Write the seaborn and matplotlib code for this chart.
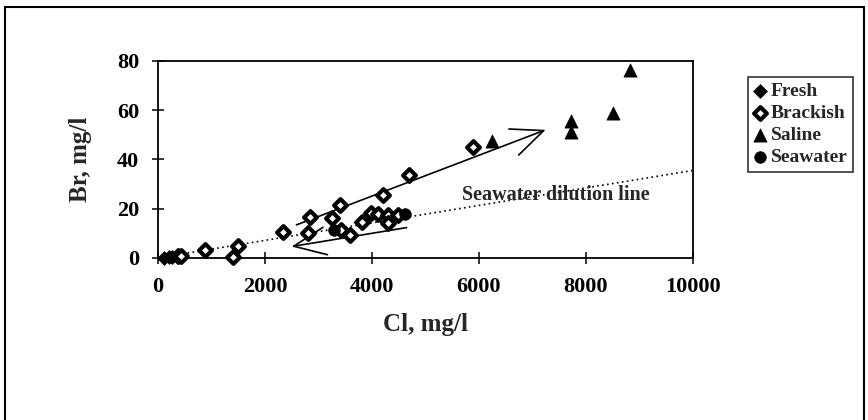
"""Br vs Cl scatter with seawater dilution line (recreated)."""

import matplotlib

matplotlib.use("Agg")
import matplotlib.pyplot as plt
import matplotlib.patches as mpatches
import pandas as pd
import seaborn as sns

# data
fresh_cl = [120, 200, 260]
fresh_br = [0.0, 0.3, 0.5]
brackish_cl = [380, 430, 880, 1400, 1500, 2330, 2810, 2840, 3250, 3400, 3430,
               3590, 3810, 3990, 4110, 4210, 4300, 4300, 4490, 4700, 5900]
brackish_br = [0.6, 0.9, 3.2, 0.5, 5.0, 10.7, 10.0, 16.8, 16.1, 21.5, 11.4,
               9.3, 14.7, 18.1, 18.0, 25.6, 17.5, 14.1, 17.5, 33.7, 45.0]
saline_cl = [6240, 7730, 7730, 8510, 8820]
saline_br = [47.5, 55.4, 51.3, 58.8, 76.3]
seawater_cl = [3300, 4620]
seawater_br = [11.5, 17.8]

dilution_cl = [0, 10000]
dilution_br = [0, 35.5]
up_arrow = [(2590, 13.4), (7250, 52.0)]
down_arrow = [(4650, 12.3), (2500, 4.6)]

x_ticks = [0, 2000, 4000, 6000, 8000, 10000]
y_ticks = [0, 20, 40, 60, 80]

groups = {
    "Fresh": (fresh_cl, fresh_br),
    "Brackish": (brackish_cl, brackish_br),
    "Saline": (saline_cl, saline_br),
    "Seawater": (seawater_cl, seawater_br),
}
styles = {
    "Fresh": dict(marker="D", color="black", s=50, linewidth=0.5),
    "Brackish": dict(marker="D", color="white", s=42, linewidth=3.0),
    "Saline": dict(marker="^", color="black", s=90, linewidth=0.5),
    "Seawater": dict(marker="o", color="black", s=70, linewidth=0.5),
}


def main() -> None:
    sns.set_theme(style="ticks")
    plt.rcParams["font.family"] = ["Liberation Serif", "DejaVu Serif"]
    plt.rcParams["font.weight"] = "bold"

    fig = plt.figure(figsize=(8.68, 4.2), dpi=100)
    ax = fig.add_axes([0.182, 0.386, 0.616, 0.469])

    ax.plot(dilution_cl, dilution_br, linestyle=(0, (1, 2)), color="black",
            linewidth=1.2, zorder=1)

    for name, (cl, br) in groups.items():
        df = pd.DataFrame({"Cl": cl, "Br": br})
        sns.scatterplot(data=df, x="Cl", y="Br", ax=ax, edgecolor="black",
                        label=name, zorder=3, clip_on=False, **styles[name])

    for start, tip in (up_arrow, down_arrow):
        ax.annotate("", xy=tip, xytext=start,
                    arrowprops=dict(arrowstyle="->,head_length=23,head_width=10",
                                    mutation_scale=1, color="black", lw=1.2,
                                    shrinkA=0, shrinkB=0), zorder=2)

    ax.text(5680, 25.6, "Seawater dilution line", fontsize=14.5,
            fontweight="bold", va="center", ha="left", zorder=4)

    ax.set_xlim(0, 10000)
    ax.set_ylim(0, 80)
    ax.set_xticks(x_ticks)
    ax.set_yticks(y_ticks)
    ax.tick_params(direction="inout", length=9, width=1.1, labelsize=16,
                   colors="black", pad=9)
    for lab in ax.get_xticklabels() + ax.get_yticklabels():
        lab.set_fontweight("bold")
    for spine in ax.spines.values():
        spine.set_visible(True)
        spine.set_color("black")
        spine.set_linewidth(1.3)
    ax.set_xlabel("Cl, mg/l", fontsize=18, fontweight="bold", labelpad=12)
    ax.set_ylabel("Br, mg/l", fontsize=18, fontweight="bold", labelpad=18)

    leg = ax.legend(loc="upper left", bbox_to_anchor=(0.862, 0.817),
                    bbox_transform=fig.transFigure, borderaxespad=0,
                    frameon=True, fancybox=False, edgecolor="black",
                    handlelength=0.6, handletextpad=0.25, labelspacing=0.22,
                    borderpad=0.3, prop=dict(size=14, weight="bold"))
    leg.get_frame().set_linewidth(1.2)

    border = mpatches.Rectangle((5 / 868, -0.05), 859 / 868, 1 - 7 / 420 + 0.05,
                                transform=fig.transFigure, fill=False,
                                edgecolor="black", linewidth=1.5, clip_on=False)
    fig.patches.append(border)

    fig.savefig("out.png", dpi=100)
    plt.close(fig)


if __name__ == "__main__":
    main()
